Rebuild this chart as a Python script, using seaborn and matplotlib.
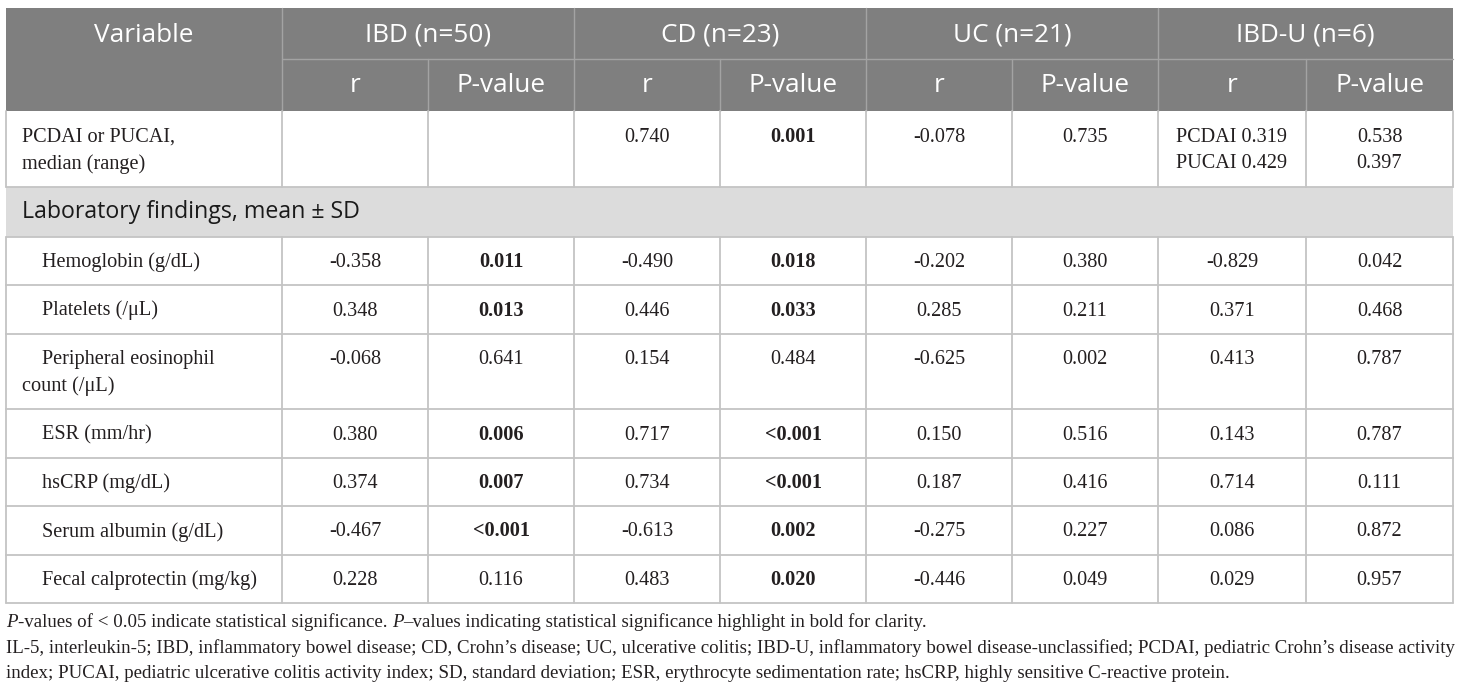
import numpy as np
import pandas as pd
import seaborn as sns
import matplotlib.pyplot as plt

# ---------------- data ----------------
groups = ["IBD (n=50)", "CD (n=23)", "UC (n=21)", "IBD-U (n=6)"]
sub_headers = ["r", "P-value"]
first_header = "Variable"
section_label = "Laboratory findings, mean \u00b1 SD"

variables = ["PCDAI or PUCAI,\nmedian (range)", "Hemoglobin (g/dL)", "Platelets (/\u03bcL)",
             "Peripheral eosinophil\ncount (/\u03bcL)", "ESR (mm/hr)", "hsCRP (mg/dL)",
             "Serum albumin (g/dL)", "Fecal calprotectin (mg/kg)"]
indented = [False, True, True, True, True, True, True, True]

ibd_r = ["", "-0.358", "0.348", "-0.068", "0.380", "0.374", "-0.467", "0.228"]
ibd_p = ["", "0.011", "0.013", "0.641", "0.006", "0.007", "<0.001", "0.116"]
cd_r = ["0.740", "-0.490", "0.446", "0.154", "0.717", "0.734", "-0.613", "0.483"]
cd_p = ["0.001", "0.018", "0.033", "0.484", "<0.001", "<0.001", "0.002", "0.020"]
uc_r = ["-0.078", "-0.202", "0.285", "-0.625", "0.150", "0.187", "-0.275", "-0.446"]
uc_p = ["0.735", "0.380", "0.211", "0.002", "0.516", "0.416", "0.227", "0.049"]
ibdu_r = ["PCDAI 0.319\nPUCAI 0.429", "-0.829", "0.371", "0.413", "0.143", "0.714", "0.086", "0.029"]
ibdu_p = ["0.538\n0.397", "0.042", "0.468", "0.787", "0.787", "0.111", "0.872", "0.957"]

ibd_p_bold = [False, True, True, False, True, True, True, False]
cd_p_bold = [True, True, True, False, True, True, True, True]
uc_p_bold = [False] * 8
ibdu_p_bold = [False] * 8

footnote_1 = [("P", "italic"), ("-values of < 0.05 indicate statistical significance. ", "normal"),
              ("P", "italic"), ("\u2013values indicating statistical significance highlight in bold for clarity.", "normal")]
footnote_2 = ("IL-5, interleukin-5; IBD, inflammatory bowel disease; CD, Crohn\u2019s disease; UC, ulcerative colitis; "
              "IBD-U, inflammatory bowel disease-unclassified; PCDAI, pediatric Crohn\u2019s disease activity")
footnote_3 = ("index; PUCAI, pediatric ulcerative colitis activity index; SD, standard deviation; ESR, erythrocyte "
              "sedimentation rate; hsCRP, highly sensitive C-reactive protein.")

columns = [(ibd_r, [False] * 8), (ibd_p, ibd_p_bold), (cd_r, [False] * 8), (cd_p, cd_p_bold),
           (uc_r, [False] * 8), (uc_p, uc_p_bold), (ibdu_r, [False] * 8), (ibdu_p, ibdu_p_bold)]

table = pd.DataFrame({"variable": variables, "indent": indented})

# ---------------- style ----------------
sns.set_theme(style="white")
SANS = ["Open Sans", "Noto Sans", "DejaVu Sans"]
SERIF = ["Liberation Serif", "DejaVu Serif"]
plt.rcParams["font.family"] = SERIF

HEADER_BG = "#7f7f7f"
HEADER_LINE = "#a3a3a3"
SECTION_BG = "#dcdcdc"
GRID = "#c4c4c4"
TXT = "#231f20"

fig = plt.figure(figsize=(14.6, 6.9), dpi=100)
ax = fig.add_axes([0, 0, 1, 1])
ax.set_xlim(0, 1460)
ax.set_ylim(690, 0)
ax.axis("off")

x_edges = [6, 282, 428, 574, 720, 866, 1012, 1158, 1306, 1453]
x_left, x_right = x_edges[0], x_edges[-1]
hdr_top, hdr_mid, hdr_bot = 8, 59, 111

# ---------------- header ----------------
ax.fill_between([x_left, x_right], hdr_top, hdr_bot, color=HEADER_BG, lw=0)
ax.plot([x_edges[1], x_right], [hdr_mid, hdr_mid], color=HEADER_LINE, lw=1)
for i, xe in enumerate(x_edges[1:-1], start=1):
    y0 = hdr_top if i % 2 == 1 else hdr_mid
    ax.plot([xe, xe], [y0, hdr_bot], color=HEADER_LINE, lw=1)

HFS = 18.8
ax.text((x_edges[0] + x_edges[1]) / 2, (hdr_top + hdr_mid) / 2 + 1.5, first_header, color="white",
        ha="center", va="center", fontsize=HFS, family=SANS)
for g, name in enumerate(groups):
    xa, xb = x_edges[1 + 2 * g], x_edges[3 + 2 * g]
    ax.text((xa + xb) / 2, (hdr_top + hdr_mid) / 2 + 1.5, name, color="white",
            ha="center", va="center", fontsize=HFS, family=SANS)
    for s, sh in enumerate(sub_headers):
        xc = (x_edges[1 + 2 * g + s] + x_edges[2 + 2 * g + s]) / 2
        ax.text(xc, (hdr_mid + hdr_bot) / 2 + 1, sh, color="white",
                ha="center", va="center", fontsize=HFS, family=SANS)

# ---------------- body ----------------
BFS = 14.6
LINE = 27
base_h = 48.5
BASE_OFF = 30.5  # baseline of first text line below row top
y = hdr_bot
row_tops = []
for i, var in enumerate(table["variable"]):
    nlines = max([len(var.split("\n"))] + [len(c[0][i].split("\n")) for c in columns])
    h = base_h + LINE * (nlines - 1)
    row_tops.append((y, h))
    y += h
    if i == 0:
        row_tops.append(("section", y, 50))
        y += 50
table_bottom = y

rows_iter = iter(range(len(variables)))
for item in row_tops:
    if item[0] == "section":
        _, top, h = item
        ax.fill_between([x_left, x_right], top, top + h, color=SECTION_BG, lw=0)
        ax.text(x_left + 16, top + h / 2 + 1, section_label, color="#1a1a1a", ha="left", va="center",
                fontsize=16.7, family=SANS)
        ax.plot([x_left, x_right], [top + h, top + h], color=GRID, lw=1.3)
        continue
    top, h = item
    i = next(rows_iter)
    ax.plot([x_left, x_right], [top + h, top + h], color=GRID, lw=1.3)
    for xe in x_edges:
        ax.plot([xe, xe], [top, top + h], color=GRID, lw=1.3)
    for k, line in enumerate(table["variable"][i].split("\n")):
        xl = x_left + 36 if (table["indent"][i] and k == 0) else x_left + 16
        ax.text(xl, top + BASE_OFF + k * LINE, line, color=TXT, ha="left", va="baseline", fontsize=BFS)
    for c, (vals, bolds) in enumerate(columns):
        xc = (x_edges[1 + c] + x_edges[2 + c]) / 2
        for k, line in enumerate(vals[i].split("\n")):
            ax.text(xc, top + BASE_OFF + k * LINE, line, color=TXT, ha="center", va="baseline", fontsize=BFS,
                    fontweight="bold" if bolds[i] else "normal")

# ---------------- footnotes ----------------
fig.canvas.draw()
renderer = fig.canvas.get_renderer()
probe = ax.text(0, 0, footnote_2, fontsize=13)
w = probe.get_window_extent(renderer).width
probe.remove()
FFS = 13 * (x_right - x_left) / w

fy = [table_bottom + 24, table_bottom + 50, table_bottom + 75]
xcur = x_left
for txt, st in footnote_1:
    t = ax.text(xcur, fy[0], txt, style=st, color=TXT, ha="left", va="baseline", fontsize=FFS)
    xcur += t.get_window_extent(renderer).width
ax.text(x_left, fy[1], footnote_2, color=TXT, ha="left", va="baseline", fontsize=FFS)
ax.text(x_left, fy[2], footnote_3, color=TXT, ha="left", va="baseline", fontsize=FFS)

fig.savefig("out.png", dpi=100, facecolor="white")
